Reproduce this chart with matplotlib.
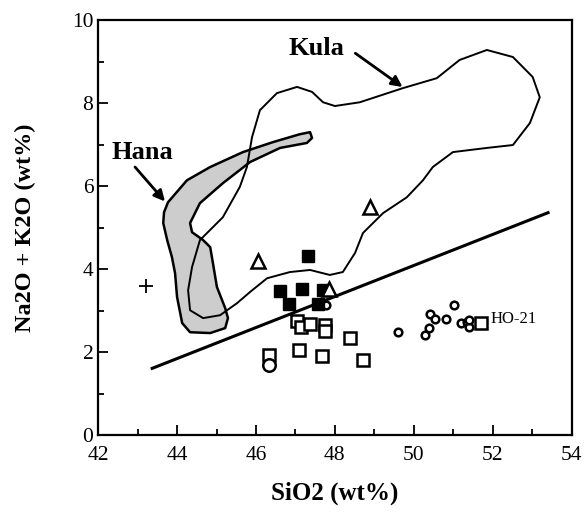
import matplotlib.pyplot as plt
from matplotlib.patches import Polygon
from matplotlib.ticker import MultipleLocator

plt.rcParams['font.family'] = ['Liberation Serif', 'DejaVu Serif']

# Kula field outline (SiO2, total alkali)
kula_x = [44.66, 44.33, 44.28, 44.38, 44.58, 45.16, 45.59, 45.77, 45.90, 46.10,
          46.53, 47.04, 47.42, 47.70, 48.00, 48.63, 49.72, 50.58, 51.16, 51.85,
          52.51, 53.01, 53.19, 52.94, 52.51, 51.85, 50.99, 50.48, 50.23, 49.82,
          49.22, 48.71, 48.51, 48.20, 47.87, 47.37, 46.86, 46.28, 45.85, 45.52,
          45.09]
kula_y = [2.82, 3.01, 3.49, 4.05, 4.70, 5.25, 5.98, 6.46, 7.18, 7.83,
          8.24, 8.39, 8.27, 8.02, 7.93, 8.02, 8.36, 8.60, 9.04, 9.28,
          9.11, 8.63, 8.14, 7.52, 6.99, 6.92, 6.82, 6.46, 6.14, 5.73,
          5.35, 4.87, 4.39, 3.93, 3.86, 3.98, 3.93, 3.78, 3.45, 3.18,
          2.89]

# Hana field outline
hana_x = [47.37, 47.42, 47.29, 46.61, 45.85, 45.16, 44.58, 44.33, 44.38, 44.66,
          44.84, 44.91, 45.01, 45.22, 45.29, 45.22, 44.84, 44.33, 44.13, 44.00,
          43.95, 43.87, 43.75, 43.65, 43.67, 43.77, 44.25, 44.84, 45.67, 46.43,
          47.11]
hana_y = [7.30, 7.16, 7.04, 6.92, 6.58, 6.07, 5.59, 5.11, 4.89, 4.70,
          4.53, 4.14, 3.57, 3.06, 2.82, 2.58, 2.46, 2.48, 2.70, 3.33,
          3.90, 4.29, 4.70, 5.11, 5.37, 5.61, 6.14, 6.46, 6.82, 7.06,
          7.25]

# dividing line
line_x = [43.37, 53.40]
line_y = [1.61, 5.36]

# samples
filled_sq_x = [47.31, 46.61, 47.16, 47.70, 46.84, 47.58]
filled_sq_y = [4.31, 3.48, 3.53, 3.49, 3.16, 3.16]

open_sq_x = [47.05, 47.15, 47.38, 47.75, 47.75, 48.38, 47.10, 47.68, 48.72,
             46.34, 51.71]
open_sq_y = [2.75, 2.60, 2.69, 2.65, 2.50, 2.33, 2.05, 1.90, 1.82,
             1.93, 2.71]

tri_x = [46.06, 47.86, 48.89]
tri_y = [4.20, 3.51, 5.50]

circ_x = [49.60, 50.28, 50.39, 50.41, 50.53, 50.81, 51.01, 51.19, 51.35, 51.40,
          51.40, 47.77]
circ_y = [2.49, 2.41, 2.57, 2.93, 2.79, 2.79, 3.13, 2.71, 2.73, 2.61,
          2.78, 3.13]

big_circ_x = [46.34]
big_circ_y = [1.69]

plus_x = [43.22]
plus_y = [3.59]

fig = plt.figure(figsize=(5.84, 5.15), dpi=100)
ax = fig.add_axes([0.168, 0.155, 0.811, 0.806])

ax.add_patch(Polygon(list(zip(hana_x, hana_y)), closed=True, facecolor='#cdcdcd',
                     edgecolor='black', lw=1.8, joinstyle='round', zorder=2))
ax.add_patch(Polygon(list(zip(kula_x, kula_y)), closed=True, facecolor='none',
                     edgecolor='black', lw=1.4, joinstyle='round', zorder=3))

ax.plot(line_x, line_y, color='black', lw=2.2, zorder=3)

ax.plot(open_sq_x, open_sq_y, 's', ms=8, mfc='white', mec='black', mew=1.8, zorder=4)
ax.plot(circ_x, circ_y, 'o', ms=5.5, mfc='white', mec='black', mew=1.8, zorder=4)
ax.plot(big_circ_x, big_circ_y, 'o', ms=9, mfc='white', mec='black', mew=1.8, zorder=4)
ax.plot(filled_sq_x, filled_sq_y, 's', ms=9, mfc='black', mec='black', zorder=5)
ax.plot(tri_x, tri_y, '^', ms=10, mfc='white', mec='black', mew=1.8, zorder=5)
ax.plot(plus_x, plus_y, '+', ms=10, color='black', mew=1.3, zorder=4)

ax.text(43.13, 6.80, 'Hana', fontsize=19, fontweight='bold', ha='center', va='center')
ax.annotate('', xy=(43.74, 5.58), xytext=(42.89, 6.51),
            arrowprops=dict(arrowstyle='-|>', color='black', lw=2, mutation_scale=16))
ax.text(47.54, 9.32, 'Kula', fontsize=19, fontweight='bold', ha='center', va='center')
ax.annotate('', xy=(49.77, 8.35), xytext=(48.46, 9.24),
            arrowprops=dict(arrowstyle='-|>', color='black', lw=2, mutation_scale=16))
ax.text(51.95, 2.80, 'HO-21', fontsize=12, ha='left', va='center')

ax.set_xlim(42, 54)
ax.set_ylim(0, 10)
ax.xaxis.set_major_locator(MultipleLocator(2))
ax.xaxis.set_minor_locator(MultipleLocator(1))
ax.yaxis.set_major_locator(MultipleLocator(2))
ax.yaxis.set_minor_locator(MultipleLocator(1))
ax.tick_params(which='both', direction='in', top=False, right=False,
               labelsize=15.5, width=1.3)
ax.tick_params(axis='x', pad=8)
ax.tick_params(which='major', length=7)
ax.tick_params(which='minor', length=4)
for s in ax.spines.values():
    s.set_linewidth(1.6)

ax.set_xlabel('SiO2 (wt%)', fontsize=18, fontweight='bold', labelpad=12)
ax.set_ylabel('Na2O + K2O (wt%)', fontsize=17.5, fontweight='bold', labelpad=26)

fig.savefig('out.png', dpi=100)
